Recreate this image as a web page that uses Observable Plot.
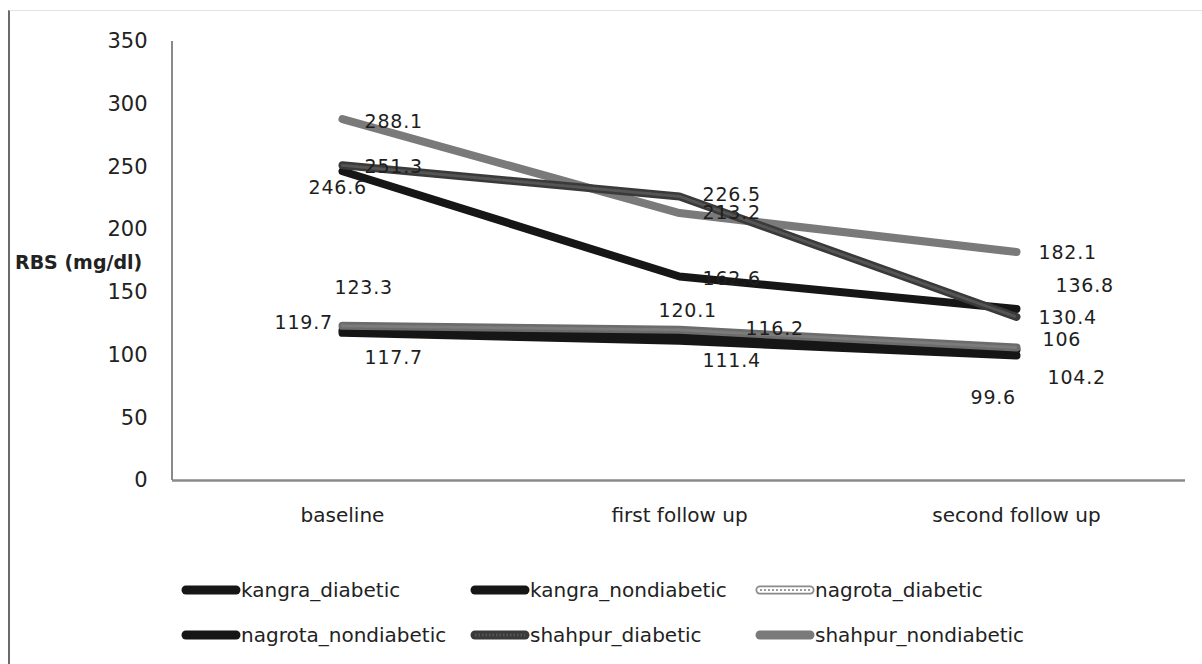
<!DOCTYPE html>
<html>
<head>
<meta charset="utf-8">
<script src="https://cdn.jsdelivr.net/npm/d3@7"></script>
<script src="https://cdn.jsdelivr.net/npm/@observablehq/plot@0.6"></script>
<style>
  html, body { margin:0; padding:0; background:#fff; }
  body { width:1202px; height:664px; overflow:hidden; position:relative; font-family:"DejaVu Sans", sans-serif; }
  #frame { position:absolute; left:8px; top:10px; width:1210px; height:670px; border-left:2px solid #6a6a6a; border-top:1px solid #e2e2e2; }
  #chart { position:absolute; left:0; top:0; }
  #chart g[aria-label="text"] text { letter-spacing:0.8px; }
  #ylabel { position:absolute; left:15px; top:251px; font:bold 19px "DejaVu Sans"; color:#222; white-space:nowrap; }
  .leg { position:absolute; display:flex; align-items:center; font-size:20px; color:#222; white-space:nowrap; }
  .leg svg { display:block; }
</style>
</head>
<body>
<div id="frame"></div>
<div id="chart"></div>
<div id="ylabel">RBS (mg/dl)</div>
<div id="legend"></div>
<script>
// ---- data ----
const stages = ["baseline", "first follow up", "second follow up"];
const seriesNames = ["kangra_diabetic", "kangra_nondiabetic", "nagrota_diabetic", "nagrota_nondiabetic", "shahpur_diabetic", "shahpur_nondiabetic"];
const kangra_diabetic     = [246.6, 162.6, 136.8];
const kangra_nondiabetic  = [117.7, 111.4, 99.6];
const nagrota_diabetic    = [123.3, 120.1, 106];
const nagrota_nondiabetic = [119.7, 116.2, 104.2];
const shahpur_diabetic    = [251.3, 226.5, 130.4];
const shahpur_nondiabetic = [288.1, 213.2, 182.1];
const yTicks = [0, 50, 100, 150, 200, 250, 300, 350];

// ---- styles (not data) ----
const seriesValues = {kangra_diabetic, kangra_nondiabetic, nagrota_diabetic, nagrota_nondiabetic, shahpur_diabetic, shahpur_nondiabetic};
const lineColor = {
  kangra_diabetic: "#161616",
  kangra_nondiabetic: "#161616",
  nagrota_diabetic: "#6c6c6c",
  nagrota_nondiabetic: "#161616",
  shahpur_diabetic: "#3a3a3a",
  shahpur_nondiabetic: "#7a7a7a"
};
// label nudges in pixels [dx, dy] per series per stage (Excel manual label placement)
const labelNudge = {
  kangra_diabetic:     [[-34, 17], [23, 2], [39, -23]],
  kangra_nondiabetic:  [[22, 25], [23, 20], [-46, 42]],
  nagrota_diabetic:    [[-8, -38], [-21, -19], [26, -8]],
  nagrota_nondiabetic: [[-68, -7], [66, -6], [31, 28]],
  shahpur_diabetic:    [[22, 2], [23, -1], [22, 1]],
  shahpur_nondiabetic: [[22, 3], [23, 0], [22, 1]]
};
const drawOrder = ["shahpur_nondiabetic", "kangra_nondiabetic", "nagrota_nondiabetic", "nagrota_diabetic", "kangra_diabetic", "shahpur_diabetic"];

const rows = seriesNames.flatMap(s => stages.map((st, j) => ({series: s, stage: st, value: seriesValues[s][j], dx: labelNudge[s][j][0], dy: labelNudge[s][j][1]})));

const lineMarks = drawOrder.flatMap(s => {
  const data = rows.filter(r => r.series === s);
  const marks = [Plot.line(data, {
    x: "stage", y: "value", stroke: lineColor[s], strokeWidth: 8, strokeLinecap: "round", strokeLinejoin: "round"
  })];
  if (s === "shahpur_diabetic" || s === "nagrota_diabetic") {
    marks.push(Plot.line(data, {
      x: "stage", y: "value", stroke: s === "shahpur_diabetic" ? "#555" : "#7c7c7c", strokeWidth: 3, strokeDasharray: "1.5,2", strokeLinejoin: "round"
    }));
  }
  return marks;
});
const textMarks = rows.map(r => Plot.text([r], {
  x: "stage", y: "value", text: d => String(d.value), dx: r.dx, dy: r.dy,
  textAnchor: "start", fontSize: 19, fill: "#1e1e1e"
}));

const plot = Plot.plot({
  width: 1202,
  height: 575,
  marginLeft: 172,
  marginRight: 17,
  marginTop: 41,
  marginBottom: 95,
  style: {fontFamily: "DejaVu Sans", background: "transparent", overflow: "visible"},
  x: {type: "point", domain: stages, padding: 0.5},
  y: {domain: [0, 350]},
  marks: [
    Plot.axisY({ticks: yTicks, tickSize: 0, tickPadding: 25, fontSize: 21, fill: "#222", label: null}),
    Plot.axisX({tickSize: 0, tickPadding: 27, fontSize: 20, fill: "#222", label: null}),
    Plot.ruleY([0], {stroke: "#8a8a8a", strokeWidth: 2.5}),
    ...lineMarks,
    ...textMarks
  ]
});
document.getElementById("chart").appendChild(plot);

// left axis line, placed with the plot's own y scale
const ys = plot.scale("y");
d3.select(plot).append("line")
  .attr("x1", 172).attr("x2", 172)
  .attr("y1", ys.apply(350)).attr("y2", ys.apply(0))
  .attr("stroke", "#8a8a8a").attr("stroke-width", 2);

// ---- legend (HTML below the svg) ----
const legendPos = {
  kangra_diabetic: [181, 590], kangra_nondiabetic: [470, 590], nagrota_diabetic: [755, 590],
  nagrota_nondiabetic: [181, 635], shahpur_diabetic: [470, 635], shahpur_nondiabetic: [755, 635]
};
const legend = document.getElementById("legend");
seriesNames.forEach(s => {
  const div = document.createElement("div");
  div.className = "leg";
  div.style.left = legendPos[s][0] + "px";
  div.style.top = (legendPos[s][1] - 13) + "px";
  const sw = d3.create("svg").attr("width", 60).attr("height", 26);
  const seg = () => sw.append("line").attr("x1", 5).attr("x2", 55).attr("y1", 13).attr("y2", 13).attr("stroke-linecap", "round");
  if (s === "nagrota_diabetic") {
    seg().attr("stroke", "#8a8a8a").attr("stroke-width", 9);
    seg().attr("stroke", "#fff").attr("stroke-width", 5.5);
    seg().attr("stroke", "#9a9a9a").attr("stroke-width", 2).attr("stroke-dasharray", "2,2").attr("stroke-linecap", "butt");
  } else {
    seg().attr("stroke", lineColor[s]).attr("stroke-width", 9);
    if (s === "shahpur_diabetic") seg().attr("stroke", "#555").attr("stroke-width", 3).attr("stroke-dasharray", "1.5,2").attr("stroke-linecap", "butt");
  }
  div.appendChild(sw.node());
  const t = document.createElement("span");
  t.textContent = s;
  div.appendChild(t);
  legend.appendChild(div);
});
</script>
</body>
</html>
